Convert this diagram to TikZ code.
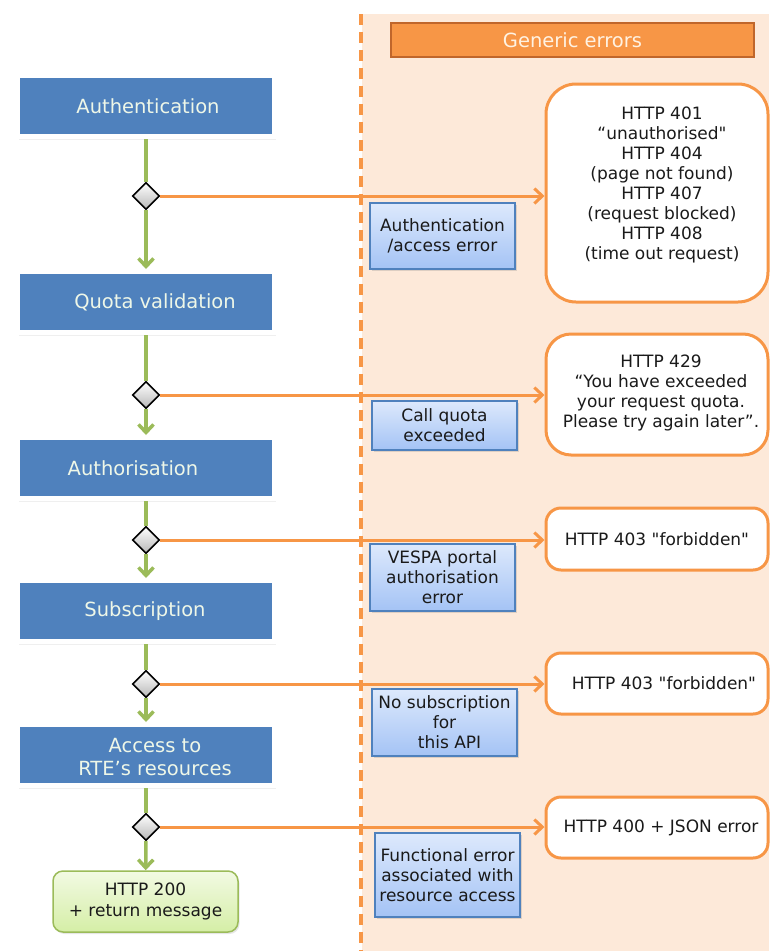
\documentclass[tikz,border=0pt]{standalone}
\usepackage{fontspec}
\setmainfont{DejaVu Sans}
\newfontfamily\plainqfont{DejaVu Sans}
\newcommand\straightquote{{\plainqfont"}}
\usetikzlibrary{shapes.geometric,arrows.meta,shadows}
\definecolor{peach}{HTML}{FDE9D9}
\definecolor{orangeA}{HTML}{F79646}
\definecolor{orangeD}{HTML}{C0662B}
\definecolor{hdrtext}{HTML}{FFF2E2}
\definecolor{blueA}{HTML}{4F81BD}
\definecolor{bluetext}{HTML}{EEF7E8}
\definecolor{greenA}{HTML}{9BBB59}
\definecolor{lblTop}{HTML}{DDE9FC}
\definecolor{lblBot}{HTML}{A4C3F5}
\definecolor{okTop}{HTML}{F2FAE3}
\definecolor{okBot}{HTML}{D5EEA6}
\definecolor{txt}{HTML}{1A1A1A}
\begin{document}
\begin{tikzpicture}[x=1pt,y=-1pt,
  bluebox/.style={draw=white, line width=5pt, fill=blueA, minimum width=257pt, minimum height=61pt, inner sep=0pt,
    drop shadow={shadow xshift=1pt, shadow yshift=-3.2pt, opacity=0.13}},
  btext/.style={text=bluetext, font=\fontsize{19.5}{23}\selectfont, align=center, inner sep=0pt},
  decision/.style={diamond, aspect=1, minimum width=27pt, minimum height=27pt, inner sep=0pt, draw=black, line width=1.6pt, top color=white, bottom color=black!28},
  gline/.style={draw=greenA, line width=3.5pt},
  garrow/.style={gline, -{Straight Barb[length=8pt,width=15pt]}},
  oarrow/.style={draw=orangeA, line width=3pt, -{Straight Barb[length=8pt,width=15pt]}},
  errbox/.style={draw=orangeA, line width=3pt, fill=white, minimum width=222pt, inner sep=0pt},
  etext/.style={text=txt, font=\fontsize{17}{20}\selectfont, align=center, inner sep=0pt},
  lblbox/.style={draw=blueA, line width=1.3pt, top color=lblTop, bottom color=lblBot, minimum width=145pt, inner sep=0pt,
    text=txt, font=\fontsize{17}{20}\selectfont, align=center,
    drop shadow={shadow xshift=2pt, shadow yshift=-2pt, opacity=0.25}},
  header/.style={draw=orangeD, line width=2.5pt, fill=orangeA, minimum width=363pt, minimum height=34pt, inner sep=0pt,
    text=hdrtext, font=\fontsize{19.5}{23}\selectfont},
  okbox/.style={draw=greenA, line width=1.5pt, rounded corners=10pt, top color=okTop, bottom color=okBot, minimum width=185pt, minimum height=61pt, inner sep=0pt,
    text=txt, font=\fontsize{17}{20.5}\selectfont, align=center,
    drop shadow={shadow xshift=1.5pt, shadow yshift=-2pt, opacity=0.2}}
]
\useasboundingbox (0,0) rectangle (769,951);
% generic errors lane
\fill[peach] (362,14) rectangle (769,951);
\draw[orangeA, line width=3.5pt, dash pattern=on 11pt off 7pt] (361,14) -- (361,951);
\node[header] (hdr) at (572.5,40) {Generic errors};

% process steps
\node[bluebox] (b1) at (146,106) {};
\node[btext] (b1t) at (148,106) {Authentication};
\node[bluebox] (b2) at (146,302) {};
\node[btext] (b2t) at (155,302) {Quota validation};
\node[bluebox] (b3) at (146,468) {};
\node[btext] (b3t) at (133,468) {Authorisation};
\node[bluebox] (b4) at (146,611) {};
\node[btext] (b4t) at (145,611) {Subscription};
\node[bluebox] (b5) at (146,755) {};
\node[btext] (b5t) at (155,757) {Access to\\RTE’s resources};
\node[okbox] (ok) at (145.5,901.5) {HTTP 200\\+ return message};

% decisions
\node[decision] (d1) at (146,196) {};
\node[decision] (d2) at (146,395) {};
\node[decision] (d3) at (146,540) {};
\node[decision] (d4) at (146,684) {};
\node[decision] (d5) at (146,827) {};

% error boxes
\node[errbox, rounded corners=30pt, minimum height=218pt] (e1) at (657,193) {};
\node[etext] (e1t) at (662,185) {HTTP 401\\“unauthorised\straightquote\\HTTP 404\\(page not found)\\HTTP 407\\(request blocked)\\HTTP 408\\(time out request)};
\node[errbox, rounded corners=25pt, minimum height=121pt] (e2) at (657,394.5) {};
\node[etext] (e2t) at (661,393) {HTTP 429\\“You have exceeded\\your request quota.\\Please try again later”.};
\node[errbox, rounded corners=15pt, minimum height=62pt] (e3) at (657,539) {};
\node[etext] (e3t) at (657,539) {HTTP 403 \straightquote forbidden\straightquote};
\node[errbox, rounded corners=15pt, minimum height=61pt] (e4) at (657,683.5) {};
\node[etext] (e4t) at (664,683.5) {HTTP 403 \straightquote forbidden\straightquote};
\node[errbox, rounded corners=15pt, minimum height=61pt] (e5) at (657,827.5) {};
\node[etext] (e5t) at (661,827.5) {HTTP 400 + JSON error};

% error labels
\node[lblbox, minimum height=66pt] (l1) at (442.5,236) {Authentication\\/access error};
\node[lblbox, minimum height=49pt] (l2) at (444.5,425.5) {Call quota\\exceeded};
\node[lblbox, minimum height=67pt] (l3) at (442.5,577.5) {VESPA portal\\authorisation\\error};
\node[lblbox, minimum height=67pt] (l4) at (444.5,722.5) {No subscription\\for\\\hspace*{0.6em}this API};
\node[lblbox, minimum height=84pt] (l5) at (447.5,875) {Functional error\\associated with\\resource access};

% green flow
\draw[gline] (b1) -- (d1);
\draw[garrow] (d1) -- (b2);
\draw[gline] (b2) -- (d2);
\draw[garrow] (d2) -- (b3);
\draw[gline] (b3) -- (d3);
\draw[garrow] (d3) -- (b4);
\draw[gline] (b4) -- (d4);
\draw[garrow] (d4) -- (b5);
\draw[gline] (b5) -- (d5);
\draw[garrow] (d5) -- (ok);

% error flow
\draw[oarrow] (d1.east) -- (d1.east -| e1.west);
\draw[oarrow] (d2.east) -- (d2.east -| e2.west);
\draw[oarrow] (d3.east) -- (d3.east -| e3.west);
\draw[oarrow] (d4.east) -- (d4.east -| e4.west);
\draw[oarrow] (d5.east) -- (d5.east -| e5.west);
\end{tikzpicture}
\end{document}
